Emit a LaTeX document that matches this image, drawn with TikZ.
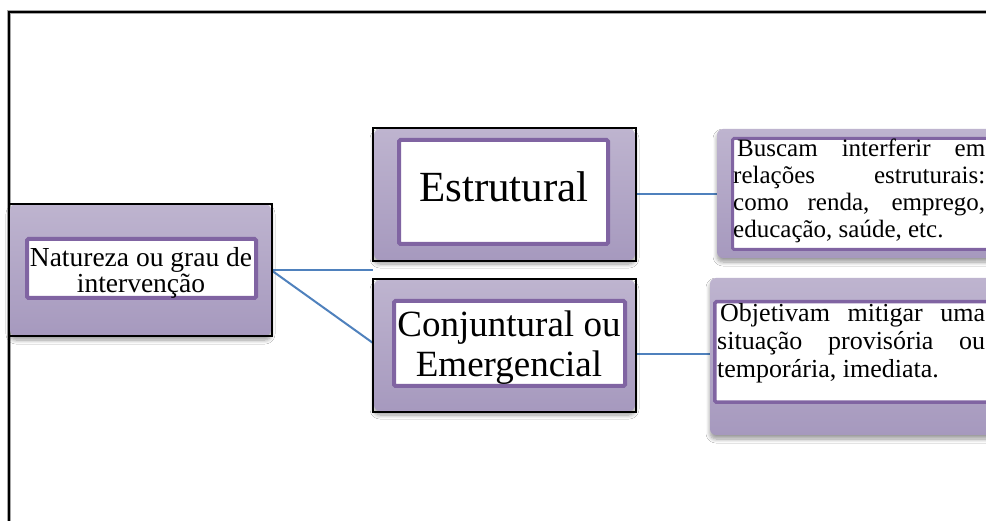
\documentclass[tikz,border=0pt]{standalone}
\usepackage{fontspec}
\setmainfont{Liberation Serif}
\usetikzlibrary{shadows.blur}
\definecolor{pTop}{RGB}{190,180,207}
\definecolor{pBot}{RGB}{166,153,190}
\definecolor{pLine}{RGB}{128,100,162}
\definecolor{cBlue}{RGB}{79,129,189}
\tikzset{
  outerbox/.style={rectangle, rounded corners=6pt, top color=pTop, bottom color=pBot,
    draw=none, inner sep=0pt,
    blur shadow={shadow xshift=0pt, shadow yshift=-4pt, shadow blur steps=8,
      shadow blur radius=4pt, shadow opacity=40}},
  innerbox/.style={rectangle, rounded corners=1.5pt, fill=white, draw=pLine,
    line width=4pt, inner sep=0pt},
  blackframe/.style={draw=black, line width=1.3pt},
  conn/.style={draw=cBlue, line width=2pt},
  txt/.style={inner sep=0pt, text=black},
}
\begin{document}
\begin{tikzpicture}[x=1pt, y=-1pt]
\useasboundingbox (0,0) rectangle (986,521);
\fill[white] (0,0) rectangle (986,521);
\clip (0,0) rectangle (986,521);

% outer frame
\draw[line width=3.5pt, black!35] (9,530) -- (9,12) -- (995,12);
\draw[line width=1.8pt, black] (9,530) -- (9,12) -- (995,12);

% connectors
\coordinate (natE) at (271,270);
\coordinate (gapE) at (373,270);
\draw[conn] (natE) -- (gapE);
\draw[conn] (natE) -- (373,343);
\draw[conn] (636,194.5) -- (717,194.5);
\draw[conn] (633,354) -- (715,354);
\draw[conn, line width=1.5pt] (713,343) -- (721,343);

% Natureza box
\node[outerbox, minimum width=261pt, minimum height=132pt] (nat) at (140.5,270) {};
\node[innerbox, minimum width=229pt, minimum height=59pt] (natIn) at (141.5,268.5) {};
\draw[blackframe] (9,204) rectangle (272,336);
\node[txt, anchor=base] (natT) at (141,267)
  {\parbox[t]{250pt}{\centering\fontsize{27.5}{24}\selectfont Natureza ou grau de\\intervenção}};

% Estrutural box
\node[outerbox, minimum width=261pt, minimum height=131pt] (est) at (504.5,194.5) {};
\node[innerbox, minimum width=209pt, minimum height=104pt] (estIn) at (503.5,192) {};
\draw[blackframe] (373,128) rectangle (636,261);
\node[txt, anchor=base] (estT) at (504,202) {\fontsize{43}{48}\selectfont Estrutural};

% Conjuntural box
\node[outerbox, minimum width=261pt, minimum height=131pt] (conj) at (504.5,345.5) {};
\node[innerbox, minimum width=231pt, minimum height=85pt] (conjIn) at (509.5,343.5) {};
\draw[blackframe] (373,279) rectangle (636,412);
\node[txt, anchor=base] (conjT) at (509,337)
  {\parbox[t]{240pt}{\centering\fontsize{37}{40}\selectfont Conjuntural ou\\Emergencial}};

% right top box
\node[outerbox, minimum width=293pt, minimum height=129pt] (rtop) at (863.5,193.5) {};
\node[innerbox, line width=3pt, minimum width=277.5pt, minimum height=111pt] (rtopIn) at (871.25,194) {};
\node[txt, anchor=base west] (rtopT) at (733,157)
  {\parbox[t]{252pt}{\fontsize{25}{26.7}\selectfont
   \makebox[\linewidth][s]{\hspace{4pt}Buscam interferir em}\\
   \makebox[\linewidth][s]{relações estruturais:}\\
   \makebox[\linewidth][s]{como renda, emprego,}\\
   educação, saúde, etc.}};

% right bottom box
\node[outerbox, minimum width=300pt, minimum height=157pt] (rbot) at (860,356.5) {};
\node[innerbox, line width=3.5pt, minimum width=295.25pt, minimum height=100.5pt] (rbotIn) at (862.4,352) {};
\node[txt, anchor=base west] (rbotT) at (717,322)
  {\parbox[t]{268pt}{\fontsize{26}{28}\selectfont
   \makebox[\linewidth][s]{\hspace{3pt}Objetivam mitigar uma}\\
   \makebox[\linewidth][s]{situação provisória ou}\\
   temporária, imediata.}};
\end{tikzpicture}
\end{document}
